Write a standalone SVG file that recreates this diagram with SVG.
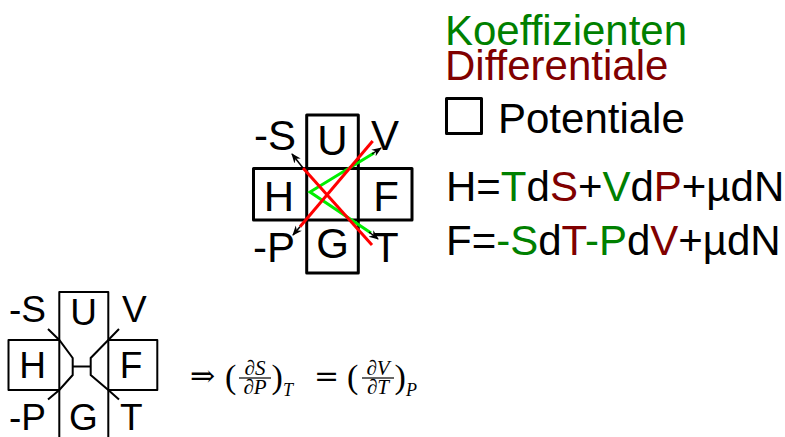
<svg xmlns="http://www.w3.org/2000/svg" width="785" height="437" viewBox="0 0 785 437">
<style>
text{font-family:"Liberation Sans",Arial,sans-serif;fill:#000}
.big{font-size:42px}
.mid{font-size:37px}
.leg{font-size:42px}
.grn{fill:#008000}
.dred{fill:#800000}
.box{fill:none;stroke:#000;stroke-width:3;stroke-linejoin:round}
.box2{fill:none;stroke:#000;stroke-width:2;stroke-linejoin:round}
.ln{fill:none;stroke:#000;stroke-width:2}
.red{stroke:#ff0000;stroke-width:3;fill:none}
.grl{stroke:#00ee00;stroke-width:3;fill:none}
.blk{stroke:#000;stroke-width:1.5;fill:none}
.m{font-family:"Liberation Serif","DejaVu Serif",serif}
.ms{font-family:"DejaVu Serif",serif}
.mi{font-family:"Liberation Serif","DejaVu Serif",serif;font-style:italic}
</style>
<defs>
<marker id="ah" viewBox="0 0 10 10" refX="9" refY="5" markerWidth="10" markerHeight="10" markerUnits="userSpaceOnUse" orient="auto">
<path d="M0,1 L10,5 L0,9 L3,5 Z" fill="#000"/>
</marker>
</defs>

<g id="top-square">
<path class="box" d="M306.7,115 H358.3 V273 H306.7 Z"/>
<path class="box" d="M253.5,168.5 H412 V220 H253.5 Z"/>
</g>
<g id="top-labels">
<text class="big" x="296" y="150" text-anchor="end">-S</text>
<text class="big" x="332.5" y="155" text-anchor="middle">U</text>
<text class="big" x="371" y="150">V</text>
<text class="big" x="279" y="211" text-anchor="middle">H</text>
<text class="big" x="386" y="211" text-anchor="middle">F</text>
<text class="big" x="295" y="262" text-anchor="end">-P</text>
<text class="big" x="332.5" y="258" text-anchor="middle">G</text>
<text class="big" x="373" y="262">T</text>
</g>
<g id="connectors">
<polyline class="grl" points="374,153 310,192 371,233"/>
<line class="blk" x1="372" y1="154" x2="381" y2="148" marker-end="url(#ah)"/>
<line class="blk" x1="369" y1="232" x2="378" y2="239" marker-end="url(#ah)"/>
<line class="red" x1="372.7" y1="141" x2="300" y2="226.7"/>
<line class="red" x1="303" y1="168" x2="372" y2="245"/>
<line class="blk" x1="303" y1="168" x2="292" y2="154" marker-end="url(#ah)"/>
<line class="blk" x1="300" y1="226.7" x2="293" y2="235" marker-end="url(#ah)"/>
</g>

<g id="legend">
<text class="leg grn" x="445" y="45">Koeffizienten</text>
<text class="leg dred" x="445" y="80">Differentiale</text>
<rect class="box" x="446.5" y="98.5" width="35" height="35"/>
<text class="leg" x="498" y="133">Potentiale</text>
<text class="leg" x="446" y="201">H=<tspan class="grn">T</tspan>d<tspan class="dred">S</tspan>+<tspan class="grn">V</tspan>d<tspan class="dred">P</tspan>+µdN</text>
<text class="leg" x="446" y="255">F=<tspan class="grn">-S</tspan>d<tspan class="dred">T</tspan><tspan class="grn">-P</tspan>d<tspan class="dred">V</tspan>+µdN</text>
</g>

<g id="bottom-square">
<path class="box2" d="M59.3,437 V292 H108.3 V437"/>
<path class="box2" d="M59.3,340 H8.5 V390 H59.3 M108.3,340 H157.3 V390 H108.3"/>
<path class="ln" d="M48,329 L59.3,340 L72.7,358 V375 L59.3,390 L48,399.5"/>
<path class="ln" d="M119,329 L108.3,340 L90.7,358 V375 L108.3,390 L119,399.5"/>
<path class="ln" d="M72.7,366.5 H90.7"/>
</g>
<g id="bottom-labels">
<text class="mid" x="9" y="322">-S</text>
<text class="mid" x="83.5" y="325" text-anchor="middle">U</text>
<text class="mid" x="122" y="322">V</text>
<text class="mid" x="32.5" y="378" text-anchor="middle">H</text>
<text class="mid" x="131" y="378" text-anchor="middle">F</text>
<text class="mid" x="9" y="430">-P</text>
<text class="mid" x="83.5" y="430" text-anchor="middle">G</text>
<text class="mid" x="120" y="430">T</text>
</g>

<g id="equation">
<text class="ms" x="190" y="386" font-size="30">⇒</text>
<text class="m" x="225" y="388" font-size="34">(</text>
<text class="m" x="255" y="374.5" font-size="21" text-anchor="middle">∂<tspan class="mi">S</tspan></text>
<line x1="239" y1="378" x2="271" y2="378" stroke="#000" stroke-width="1.2"/>
<text class="m" x="255" y="394" font-size="21" text-anchor="middle">∂<tspan class="mi">P</tspan></text>
<text class="m" x="271.5" y="388" font-size="34">)</text>
<text class="mi" x="283" y="396" font-size="18">T</text>
<text class="ms" x="314" y="386" font-size="30">=</text>
<text class="m" x="347" y="388" font-size="34">(</text>
<text class="m" x="378" y="374.5" font-size="21" text-anchor="middle">∂<tspan class="mi">V</tspan></text>
<line x1="362" y1="378" x2="394" y2="378" stroke="#000" stroke-width="1.2"/>
<text class="m" x="378" y="394" font-size="21" text-anchor="middle">∂<tspan class="mi">T</tspan></text>
<text class="m" x="394.5" y="388" font-size="34">)</text>
<text class="mi" x="406" y="396" font-size="18">P</text>
</g>
</svg>
